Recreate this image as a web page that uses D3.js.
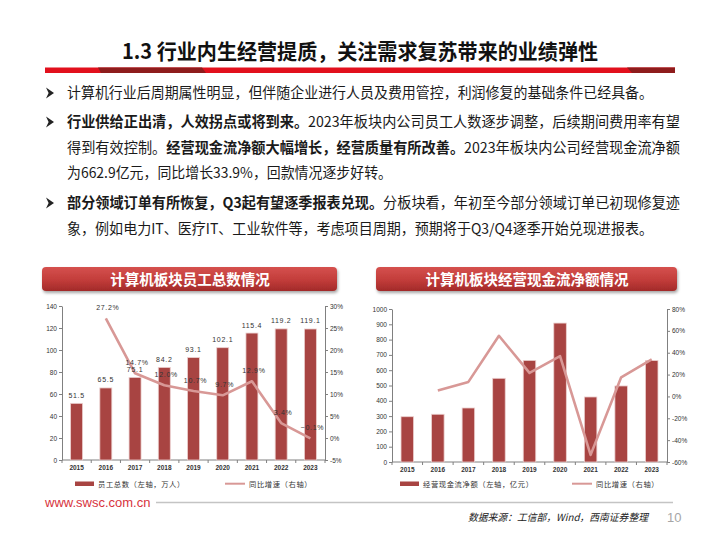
<!DOCTYPE html>
<html>
<head>
<meta charset="utf-8">
<script src="https://cdn.jsdelivr.net/npm/d3@7"></script>
<style>
  body { margin: 0; background: #fff; }
  svg { display: block; }
</style>
</head>
<body>
<svg id="slide" width="720" height="540"></svg>
<script>
// ---- data ----
const years = ["2015", "2016", "2017", "2018", "2019", "2020", "2021", "2022", "2023"];
const staffTotal = [51.5, 65.5, 75.1, 84.2, 93.1, 102.1, 115.4, 119.2, 119.1];
const staffGrowth = [null, 27.2, 14.7, 12.0, 10.7, 9.7, 12.9, 3.4, -0.1];
const cashFlow = [296, 312, 353, 547, 664, 908, 425, 497, 662.9];
const cashGrowth = [null, 5.4, 13.3, 55.5, 21.6, 36.8, -53.5, 17.5, 33.9];

const staffTicksL = [0, 20, 40, 60, 80, 100, 120, 140];
const staffTicksR = [-5, 0, 5, 10, 15, 20, 25, 30];
const cashTicksL = [0, 100, 200, 300, 400, 500, 600, 700, 800, 900, 1000];
const cashTicksR = [-60, -40, -20, 0, 20, 40, 60, 80];

const pageTitle = "1.3 行业内生经营提质，关注需求复苏带来的业绩弹性";
const chartTitles = ["计算机板块员工总数情况", "计算机板块经营现金流净额情况"];
const legendStaff = ["员工总数（左轴，万人）", "同比增速（右轴）"];
const legendCash = ["经营现金流净额（左轴，亿元）", "同比增速（右轴）"];
const sourceText = "数据来源：工信部，Wind，西南证券整理";
const pageNo = "10";

// text lines: [segment, bold]
const bodyLines = [
  [["计算机行业后周期属性明显，但伴随企业进行人员及费用管控，利润修复的基础条件已经具备。", false]],
  [["行业供给正出清，人效拐点或将到来。", true], ["2023年板块内公司员工人数逐步调整，后续期间费用率有望", false]],
  [["得到有效控制。", false], ["经营现金流净额大幅增长，经营质量有所改善。", true], ["2023年板块内公司经营现金流净额", false]],
  [["为662.9亿元，同比增长33.9%，回款情况逐步好转。", false]],
  [["部分领域订单有所恢复，Q3起有望逐季报表兑现。", true], ["分板块看，年初至今部分领域订单已初现修复迹", false]],
  [["象，例如电力IT、医疗IT、工业软件等，考虑项目周期，预期将于Q3/Q4逐季开始兑现进报表。", false]]
];
const bulletStarts = [0, 1, 4];

// ---- layout ----
const svg = d3.select("#slide");
const CJK = "'Noto Sans CJK SC', 'Noto Sans', sans-serif";
const ARIAL = "Arial, 'Liberation Sans', sans-serif";
const BAR = "#a84442", LINE = "#d89896";

const defs = svg.append("defs");
const grad = defs.append("linearGradient").attr("id", "hdr").attr("x1", 0).attr("y1", 0).attr("x2", 0).attr("y2", 1);
grad.append("stop").attr("offset", "0%").attr("stop-color", "#d5514e");
grad.append("stop").attr("offset", "55%").attr("stop-color", "#c23c3a");
grad.append("stop").attr("offset", "100%").attr("stop-color", "#a22a29");
const shadow = defs.append("filter").attr("id", "shd").attr("x", "-5%").attr("y", "-20%").attr("width", "110%").attr("height", "160%");
shadow.append("feDropShadow").attr("dx", 1).attr("dy", 2).attr("stdDeviation", 1.5).attr("flood-color", "#000").attr("flood-opacity", 0.35);

// page title
svg.append("text")
  .attr("x", 122).attr("y", 59)
  .attr("textLength", 476).attr("lengthAdjust", "spacingAndGlyphs")
  .attr("font-family", CJK).attr("font-size", 21).attr("font-weight", "bold").attr("fill", "#111")
  .text(pageTitle);

svg.append("rect").attr("x", 45).attr("y", 67.5).attr("width", 630).attr("height", 5.5).attr("fill", "#e2101d");
svg.append("polygon").attr("points", "98,67.5 202,67.5 206,73 101,73").attr("fill", "#8e1c1c");
svg.append("polygon").attr("points", "627,67.5 675,67.5 675,73 632,73").attr("fill", "#8e1c1c");

// bullet text
const lineBase = [98, 127, 153, 178, 208, 234];
const lineEnd = [653, 680, 680, 392, 680, 653];
bodyLines.forEach((segs, i) => {
  const t = svg.append("text")
    .attr("x", 67).attr("y", lineBase[i])
    .attr("textLength", lineEnd[i] - 67).attr("lengthAdjust", "spacingAndGlyphs")
    .attr("font-family", CJK).attr("font-size", 14.5).attr("fill", "#1a1a1a");
  segs.forEach(([s, b]) => t.append("tspan").attr("font-weight", b ? "bold" : "normal").text(s));
  if (bulletStarts.includes(i)) {
    const cy = lineBase[i] - 5;
    svg.append("path")
      .attr("d", `M46,${cy - 5.5} L54,${cy} L46,${cy + 5.5} L48.6,${cy} Z`)
      .attr("fill", "#222");
  }
});

// chart header boxes
[[42, 295, 190], [376, 301, 527]].forEach(([x, w, cx], i) => {
  svg.append("rect").attr("x", x).attr("y", 267).attr("width", w).attr("height", 24).attr("rx", 4)
    .attr("fill", "url(#hdr)").attr("filter", "url(#shd)");
  svg.append("text").attr("x", cx).attr("y", 284.5).attr("text-anchor", "middle")
    .attr("font-family", CJK).attr("font-size", 14.5).attr("font-weight", "bold").attr("fill", "#fff")
    .text(chartTitles[i]);
});

function styleAxis(sel) {
  sel.select(".domain").attr("stroke", "#808080");
  sel.selectAll(".tick line").attr("stroke", "#808080");
  sel.selectAll(".tick text").attr("font-family", ARIAL).attr("font-size", 6.5).attr("fill", "#333");
}

function drawChart(cfg) {
  const g = svg.append("g");
  const xb = d3.scaleBand().domain(years).range([cfg.left, cfg.right]);
  const yB = d3.scaleLinear().domain(cfg.barDomain).range([cfg.bottom, cfg.top]);
  const yR = d3.scaleLinear().domain(cfg.rateDomain).range([cfg.bottom, cfg.top]);
  const cx = d => xb(d) + xb.bandwidth() / 2;
  const bw = xb.bandwidth() * 0.41;

  g.append("g").attr("transform", `translate(${cfg.left},0)`)
    .call(d3.axisLeft(yB).tickValues(cfg.barTicks).tickSize(3).tickSizeOuter(0).tickPadding(2)
      .tickFormat(d3.format("d")))
    .call(styleAxis);
  g.append("g").attr("transform", `translate(${cfg.right},0)`)
    .call(d3.axisRight(yR).tickValues(cfg.rateTicks).tickSize(3).tickSizeOuter(0).tickPadding(2)
      .tickFormat(d => d + "%"))
    .call(styleAxis);

  // category axis with boundary ticks
  const xa = g.append("g");
  xa.append("line").attr("x1", cfg.left).attr("x2", cfg.right).attr("y1", cfg.bottom).attr("y2", cfg.bottom)
    .attr("stroke", "#808080");
  xa.selectAll("line.tk").data(years.concat(["end"])).join("line").attr("class", "tk")
    .attr("x1", d => d === "end" ? cfg.right : xb(d)).attr("x2", d => d === "end" ? cfg.right : xb(d))
    .attr("y1", cfg.bottom).attr("y2", cfg.bottom + 3).attr("stroke", "#808080");
  xa.selectAll("text").data(years).join("text")
    .attr("x", cx).attr("y", cfg.bottom + 10).attr("text-anchor", "middle")
    .attr("font-family", ARIAL).attr("font-size", 6.5)
    .attr("font-weight", "bold").attr("fill", "#333").text(d => d);

  const rows = years.map((y, i) => ({ y, b: cfg.bars[i], r: cfg.rates[i] }));

  g.selectAll("rect.bar").data(rows).join("rect").attr("class", "bar")
    .attr("x", d => cx(d.y) - bw / 2).attr("width", bw)
    .attr("y", d => yB(d.b)).attr("height", d => yB(0) - yB(d.b))
    .attr("fill", BAR).attr("stroke", "#ecd0cf").attr("stroke-width", 0.8);

  const line = d3.line().defined(d => d.r != null).x(d => cx(d.y)).y(d => yR(d.r));
  g.append("path").datum(rows).attr("d", line)
    .attr("fill", "none").attr("stroke", LINE).attr("stroke-width", 2.6).attr("stroke-linejoin", "round");

  if (cfg.labels) {
    g.selectAll("text.bl").data(rows).join("text").attr("class", "bl")
      .attr("x", d => cx(d.y)).attr("y", d => yB(d.b) - 5.5).attr("text-anchor", "middle")
      .attr("font-family", ARIAL).attr("font-size", 7).attr("letter-spacing", 0.7)
      .attr("fill", "#333").text(d => d3.format(".1f")(d.b));
    g.selectAll("text.rl").data(rows.filter(d => d.r != null)).join("text").attr("class", "rl")
      .attr("x", d => cx(d.y) + 2).attr("y", d => yR(d.r) - 8).attr("text-anchor", "middle")
      .attr("font-family", ARIAL).attr("font-size", 7).attr("letter-spacing", 0.7)
      .attr("fill", "#333").text(d => d3.format(".1f")(d.r) + "%");
  }

  // legend
  const lg = g.append("g");
  lg.append("rect").attr("x", cfg.legX[0]).attr("y", 481.5).attr("width", 19).attr("height", 4.5).attr("fill", BAR);
  lg.append("text").attr("x", cfg.legX[0] + 23).attr("y", 486.5)
    .attr("font-family", CJK).attr("font-size", 7.3).attr("letter-spacing", 0.6).attr("fill", "#333")
    .text(cfg.legend[0]);
  lg.append("line").attr("x1", cfg.legX[1]).attr("x2", cfg.legX[1] + 20).attr("y1", 483.7).attr("y2", 483.7)
    .attr("stroke", LINE).attr("stroke-width", 2);
  lg.append("text").attr("x", cfg.legX[1] + 24).attr("y", 486.5)
    .attr("font-family", CJK).attr("font-size", 7.3).attr("letter-spacing", 0.6).attr("fill", "#333")
    .text(cfg.legend[1]);
}

drawChart({
  left: 62, right: 325, top: 306, bottom: 460,
  bars: staffTotal, rates: staffGrowth,
  barDomain: [0, 140], rateDomain: [-5, 30],
  barTicks: staffTicksL, rateTicks: staffTicksR,
  labels: true, legend: legendStaff, legX: [75, 225]
});

drawChart({
  left: 392, right: 667, top: 309, bottom: 462,
  bars: cashFlow, rates: cashGrowth,
  barDomain: [0, 1000], rateDomain: [-60, 80],
  barTicks: cashTicksL, rateTicks: cashTicksR,
  labels: false, legend: legendCash, legX: [400, 572]
});

// footer
svg.append("text").attr("x", 45).attr("y", 507)
  .attr("font-family", ARIAL).attr("font-size", 13)
  .attr("fill", "#d7333c").text("www.swsc.com.cn");
svg.append("line").attr("x1", 156).attr("x2", 673).attr("y1", 502.5).attr("y2", 502.5)
  .attr("stroke", "#c4c4c4").attr("stroke-width", 1.5);
svg.append("text").attr("x", 468).attr("y", 521)
  .attr("textLength", 180).attr("lengthAdjust", "spacingAndGlyphs")
  .attr("font-family", CJK).attr("font-size", 10).attr("font-style", "italic").attr("fill", "#222")
  .text(sourceText);
svg.append("text").attr("x", 667).attr("y", 522)
  .attr("font-family", ARIAL).attr("font-size", 13).attr("fill", "#a6a6a6")
  .text(pageNo);
</script>
</body>
</html>
